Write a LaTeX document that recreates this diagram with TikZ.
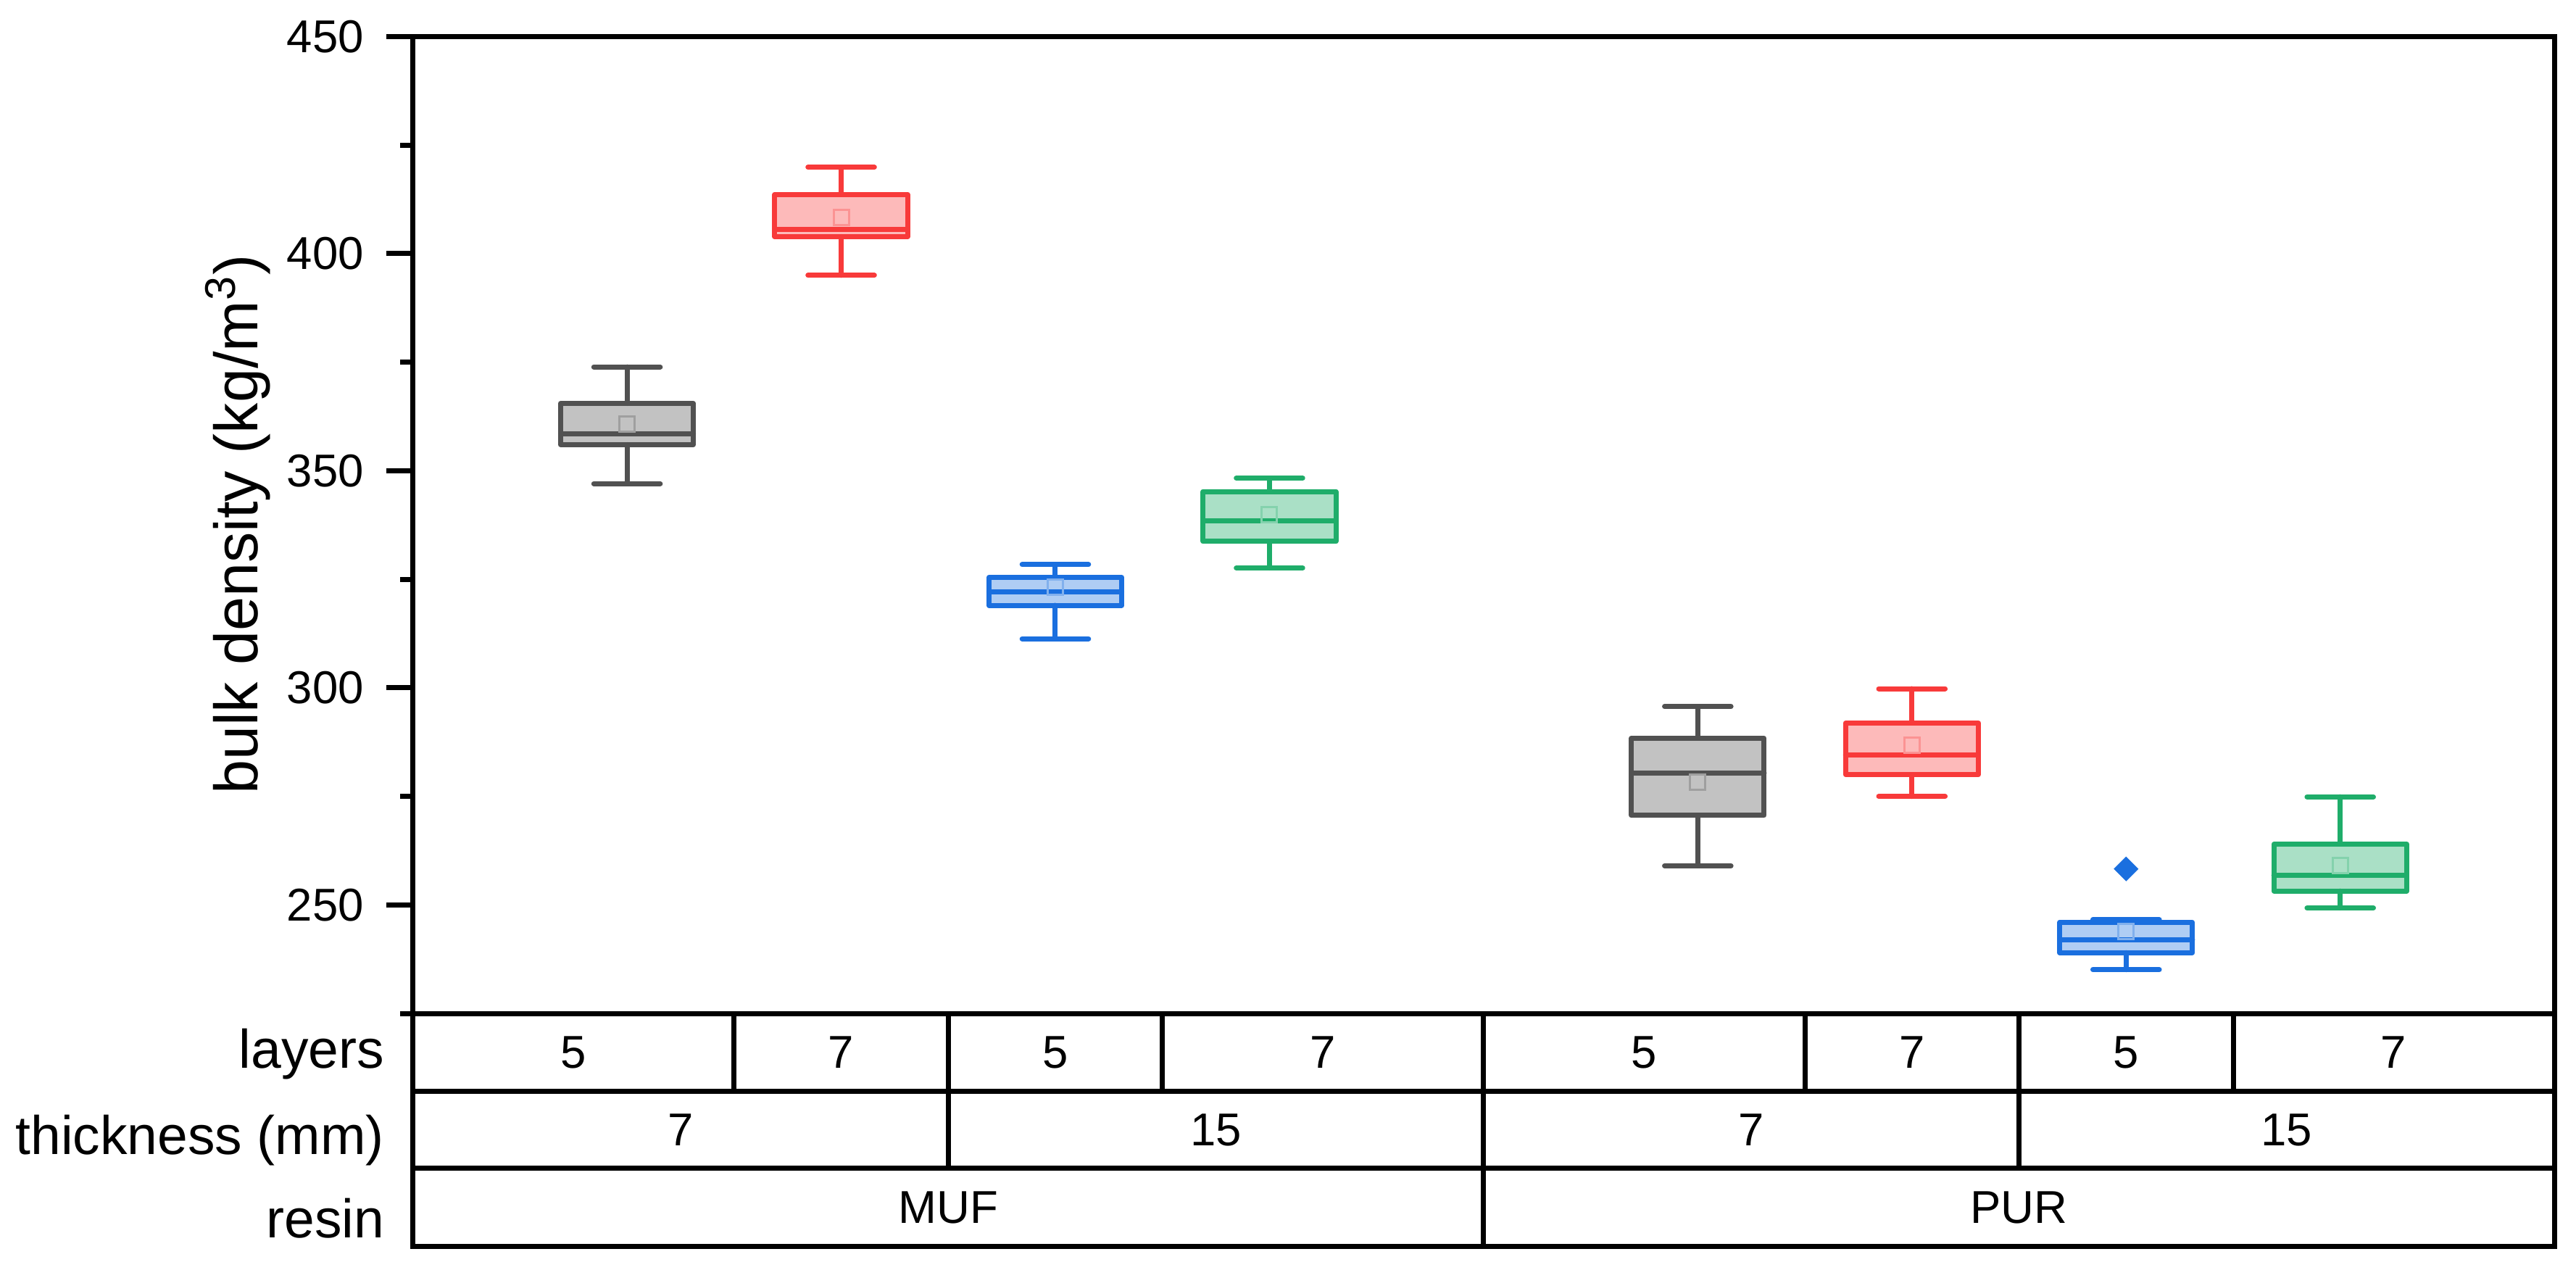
\documentclass[tikz,border=0pt]{standalone}
\usepackage{tikz}
\usepackage{xcolor}
\usepackage{fontspec}
\setmainfont{Liberation Sans}
\usetikzlibrary{shapes, shapes.geometric, positioning}

\definecolor{gris}{HTML}{515151}
\definecolor{rojo}{HTML}{F83A3A}
\definecolor{azul}{HTML}{1A6FDF}
\definecolor{verde}{HTML}{1FAD6A}

\begin{document}
\begin{tikzpicture}[x=59.09pt, y=1.198pt,
  marco/.style={line width=1.4pt},
  caja/.style={line width=1.4pt, line join=round, line cap=round},
  media/.style={draw, rectangle, inner sep=0pt, minimum size=4.2pt, line width=0.6pt},
  eje/.style={font=\fontsize{12.7}{15}\selectfont, inner sep=0pt},
  fila/.style={font=\fontsize{15}{18}\selectfont, inner sep=0pt, anchor=base east},
  celda/.style={font=\fontsize{12.7}{15}\selectfont, inner sep=0pt}]

\useasboundingbox (-1.928,165.93) rectangle (10.101,458.41);

% Dibujar el cuadro y la tabla de abajo
\draw[marco] (0,171.35) rectangle (10,450);  % Cuadro alrededor de todo
\draw[marco] (0,225) -- (10,225) (0,207.1) -- (10,207.1) (0,189.3) -- (10,189.3);  % Filas de la tabla
\draw[marco] (1.5,225) -- (1.5,207.1) (2.5,225) -- (2.5,207.1) (3.5,225) -- (3.5,207.1) (6.5,225) -- (6.5,207.1) (7.5,225) -- (7.5,207.1) (8.5,225) -- (8.5,207.1);  % capas
\draw[marco] (2.5,207.1) -- (2.5,189.3) (7.5,207.1) -- (7.5,189.3);  % espesor
\draw[marco] (5,225) -- (5,171.35);  % resina

% Marcas del eje y
\draw[marco] (0,250) -- ++(-7.3pt,0) (0,300) -- ++(-7.3pt,0) (0,350) -- ++(-7.3pt,0) (0,400) -- ++(-7.3pt,0) (0,450) -- ++(-7.3pt,0);  % marcas grandes
\draw[marco] (0,225) -- ++(-3.6pt,0) (0,275) -- ++(-3.6pt,0) (0,325) -- ++(-3.6pt,0) (0,375) -- ++(-3.6pt,0) (0,425) -- ++(-3.6pt,0);  % marcas chicas
\node[eje, anchor=east] (y250) at (-0.226,250) {250};
\node[eje, anchor=east] (y300) at (-0.226,300) {300};
\node[eje, anchor=east] (y350) at (-0.226,350) {350};
\node[eje, anchor=east] (y400) at (-0.226,400) {400};
\node[eje, anchor=east] (y450) at (-0.226,450) {450};
\node[rotate=90, anchor=base, inner sep=0pt, font=\fontsize{16.9}{20}\selectfont] (titulo) at (-0.725,337.6) {bulk density (kg/m\textsuperscript{3})};  % Titulo del eje

% Cajas: caja y mediana, bigotes, media
\draw[caja, draw=gris, fill=gris!35] (0.69,356.0) rectangle (1.31,365.5) (0.69,358.5) -- (1.31,358.5);
\draw[caja, draw=gris] (1,365.5) -- (1,373.9) (0.845,373.9) -- (1.155,373.9) (1,356.0) -- (1,347.0) (0.845,347.0) -- (1.155,347.0);
\node[media, draw=gris!55] (m1) at (1,360.8) {};

\draw[caja, draw=rojo, fill=rojo!35] (1.69,403.9) rectangle (2.31,413.6) (1.69,405.5) -- (2.31,405.5);
\draw[caja, draw=rojo] (2,413.6) -- (2,419.9) (1.845,419.9) -- (2.155,419.9) (2,403.9) -- (2,395.0) (1.845,395.0) -- (2.155,395.0);
\node[media, draw=rojo!55] (m2) at (2,408.3) {};

\draw[caja, draw=azul, fill=azul!35] (2.69,319.0) rectangle (3.31,325.4) (2.69,322.1) -- (3.31,322.1);
\draw[caja, draw=azul] (3,325.4) -- (3,328.4) (2.845,328.4) -- (3.155,328.4) (3,319.0) -- (3,311.3) (2.845,311.3) -- (3.155,311.3);
\node[media, draw=azul!55] (m3) at (3,323.2) {};

\draw[caja, draw=verde, fill=verde!38] (3.69,333.7) rectangle (4.31,345.2) (3.69,338.5) -- (4.31,338.5);
\draw[caja, draw=verde] (4,345.2) -- (4,348.3) (3.845,348.3) -- (4.155,348.3) (4,333.7) -- (4,327.6) (3.845,327.6) -- (4.155,327.6);
\node[media, draw=verde!55] (m4) at (4,339.8) {};

\draw[caja, draw=gris, fill=gris!35] (5.69,270.6) rectangle (6.31,288.4) (5.69,280.4) -- (6.31,280.4);
\draw[caja, draw=gris] (6,288.4) -- (6,295.7) (5.845,295.7) -- (6.155,295.7) (6,270.6) -- (6,259.0) (5.845,259.0) -- (6.155,259.0);
\node[media, draw=gris!55] (m6) at (6,278.2) {};

\draw[caja, draw=rojo, fill=rojo!35] (6.69,280.0) rectangle (7.31,291.9) (6.69,284.6) -- (7.31,284.6);
\draw[caja, draw=rojo] (7,291.9) -- (7,299.8) (6.845,299.8) -- (7.155,299.8) (7,280.0) -- (7,275.0) (6.845,275.0) -- (7.155,275.0);
\node[media, draw=rojo!55] (m7) at (7,286.8) {};

\draw[caja, draw=azul, fill=azul!35] (7.69,239.0) rectangle (8.31,246.0) (7.69,241.9) -- (8.31,241.9);
\draw[caja, draw=azul] (8,246.0) -- (8,246.6) (7.845,246.6) -- (8.155,246.6) (8,239.0) -- (8,235.1) (7.845,235.1) -- (8.155,235.1);
\node[media, draw=azul!55] (m8) at (8,243.8) {};
\node[diamond, fill=azul, inner sep=0pt, minimum size=7pt] (atipico) at (8,258.3) {};  % valor atipico

\draw[caja, draw=verde, fill=verde!38] (8.69,253.2) rectangle (9.31,264.0) (8.69,256.9) -- (9.31,256.9);
\draw[caja, draw=verde] (9,264.0) -- (9,274.9) (8.845,274.9) -- (9.155,274.9) (9,253.2) -- (9,249.3) (8.845,249.3) -- (9.155,249.3);
\node[media, draw=verde!55] (m9) at (9,259.0) {};

% Texto de la tabla
\node[fila] (capas) at (-0.131,212.4) {layers};
\node[fila] (espesor) at (-0.131,192.6) {thickness (mm)};
\node[fila] (resina) at (-0.131,173.4) {resin};

\node[celda] (c1) at (0.75,216.05) {5};
\node[celda] (c2) at (2,216.05) {7};
\node[celda] (c3) at (3,216.05) {5};
\node[celda] (c4) at (4.25,216.05) {7};
\node[celda] (c5) at (5.75,216.05) {5};
\node[celda] (c6) at (7,216.05) {7};
\node[celda] (c7) at (8,216.05) {5};
\node[celda] (c8) at (9.25,216.05) {7};

\node[celda] (e1) at (1.25,198.2) {7};
\node[celda] (e2) at (3.75,198.2) {15};
\node[celda] (e3) at (6.25,198.2) {7};
\node[celda] (e4) at (8.75,198.2) {15};

\node[celda] (muf) at (2.5,180.3) {MUF};
\node[celda] (pur) at (7.5,180.3) {PUR};

\end{tikzpicture}
\end{document}
